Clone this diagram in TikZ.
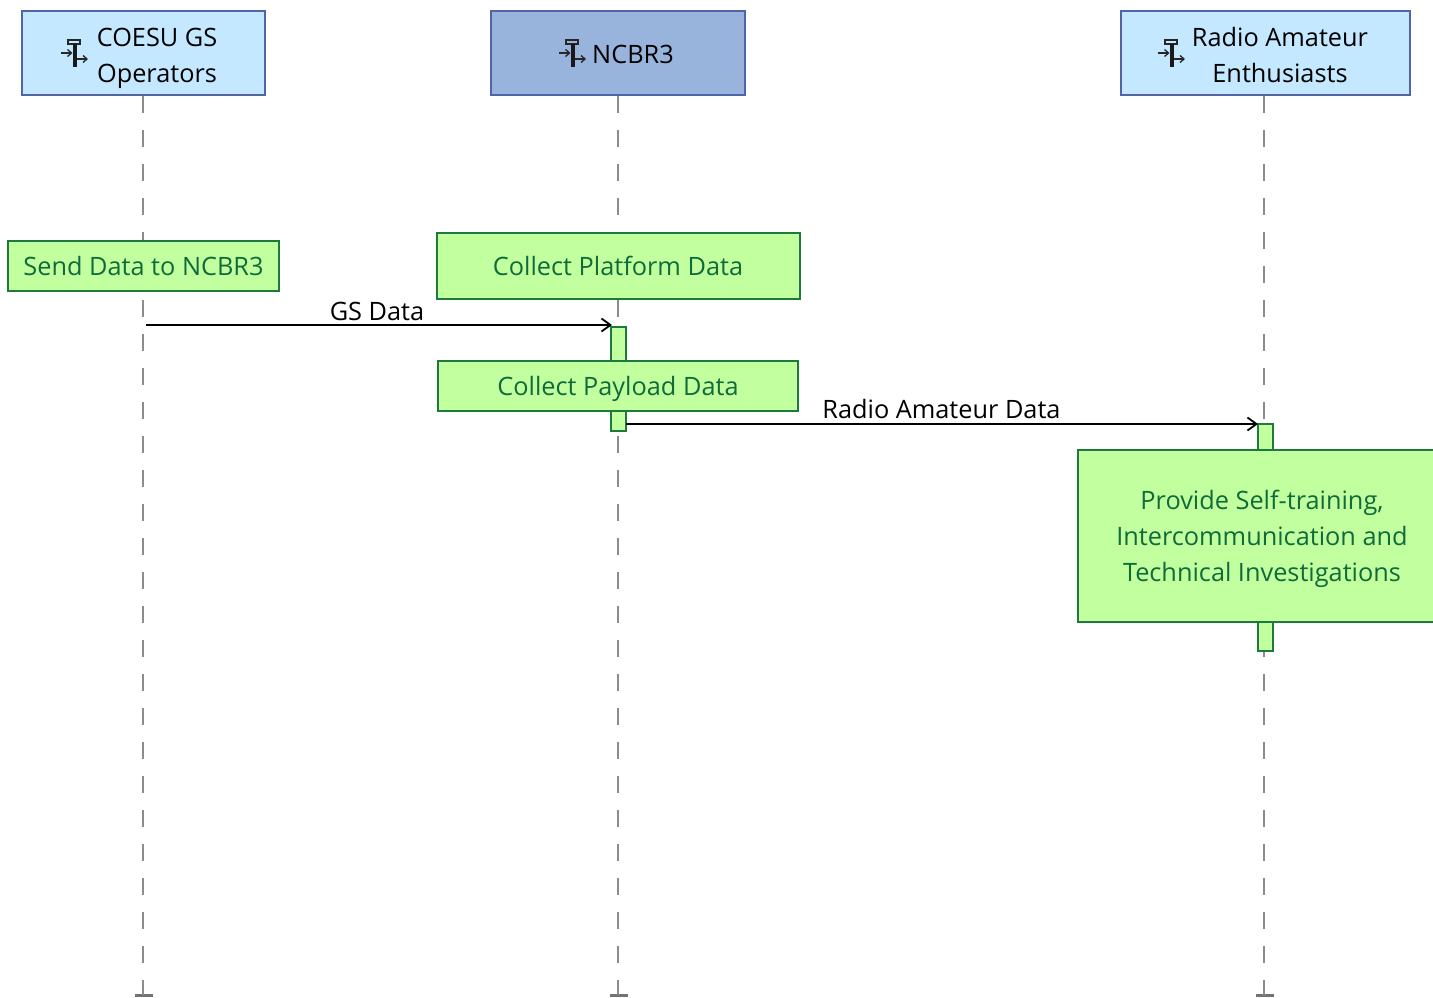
\documentclass[tikz,border=0pt]{standalone}
\usepackage{fontspec}
\setmainfont{Open Sans}
\usepackage{tikz}
\usetikzlibrary{calc}
\usetikzlibrary{arrows.meta}
\definecolor{lanefill}{HTML}{C4E8FF}
\definecolor{hilanefill}{HTML}{98B4DC}
\definecolor{laneedge}{HTML}{5264A8}
\definecolor{actfill}{HTML}{C2FF9E}
\definecolor{actedge}{HTML}{1E7A3C}
\definecolor{acttext}{HTML}{0E6B3A}
\tikzstyle{lane} = [rectangle, draw=laneedge, line width=2pt, fill=lanefill, minimum height=84pt, inner sep=0pt]
\tikzstyle{hilane} = [lane, fill=hilanefill]
\tikzstyle{lanetext} = [align=center, inner sep=0pt, text depth=0pt, font=\fontsize{25.3}{36}\selectfont]
\tikzstyle{act} = [rectangle, draw=actedge, line width=2pt, fill=actfill, text=acttext, align=center, inner sep=0pt, text depth=0pt, font=\fontsize{25.3}{36}\selectfont]
\tikzstyle{bar} = [rectangle, draw=actedge, line width=2pt, fill=actfill, minimum width=15pt, inner sep=0pt]
\tikzstyle{lifeline} = [draw=black!45, line width=2pt, dash pattern=on 17pt off 17pt]
\tikzstyle{endbar} = [rectangle, fill=black!55, minimum width=18pt, minimum height=3pt, inner sep=0pt]
\tikzstyle{line} = [draw, line width=1.8pt, -{Straight Barb[length=9pt,width=13pt,line width=1.8pt]}]
\tikzstyle{msg} = [inner sep=0pt, font=\fontsize{25.3}{30}\selectfont]
\tikzset{actoricon/.pic={
    \draw [line width=1.4pt, black!85] (-7,-13) rectangle (5,-9);
    \fill [black!90] (-2.5,-9) rectangle (2,14);
    \draw [line width=1.3pt, black!85, -{Straight Barb[length=4pt,width=7pt]}] (-14,0) -- (-2.5,0);
    \draw [line width=1.3pt, black!85, -{Straight Barb[length=4pt,width=7pt]}] (2,6) -- (13,6);
}}
\begin{document}
\begin{tikzpicture}[x=1pt, y=-1pt]
    \useasboundingbox (0,0) rectangle (1433,998);
    % lanes
    \node [lane, minimum width=243pt] (gsops) at (143.5,53) {};
    \node [hilane, right of=gsops, node distance=474.5pt, minimum width=254pt] (ncbr) {};
    \node [lane, right of=ncbr, node distance=647.5pt, minimum width=289pt] (radio) {};
    \node [lanetext] (gsopstext) at (157,55) {COESU GS\\Operators};
    \node [lanetext] (ncbrtext) at (633,54) {NCBR3};
    \node [lanetext] (radiotext) at (1280,54.5) {Radio Amateur\\Enthusiasts};
    \pic at (75,53) {actoricon};
    \pic at (573,53) {actoricon};
    \pic at (1172,53) {actoricon};
    % lifelines
    \node [endbar] (gsend) at (143.5,995.5) {};
    \node [endbar] (ncbrend) at (618.5,995.5) {};
    \node [endbar] (radioend) at (1265,995.5) {};
    \coordinate (radiotop) at (1263.5,96);
    \path [lifeline] (143,96) -- (143,995);
    \path [lifeline] (617.5,96) -- (617.5,995);
    \path [lifeline] (radiotop) -- (1263.5,995);
    % activations
    \node [bar, minimum height=104pt] (ncbrbar) at (618.5,379) {};
    \node [bar, minimum height=227pt] (radiobar) at (1265,537.5) {};
    % actions
    \node [act, minimum width=271pt, minimum height=50pt] (send) at (143.5,266) {Send Data to NCBR3};
    \node [act, minimum width=363pt, minimum height=66pt] (platform) at (618,265.5) {Collect Platform Data};
    \node [act, minimum width=360pt, minimum height=50pt] (payload) at (618,386) {Collect Payload Data};
    \node [act, minimum width=368pt, minimum height=172pt] (provide) at (1262,536) {Provide Self-training,\\Intercommunication and\\Technical Investigations};
    % messages
    \coordinate (gsout) at (146,325);
    \coordinate (gsin) at (612,325);
    \coordinate (ncbrout) at (626,424);
    \coordinate (radioin) at (1258,424);
    \path [line] (gsout) -- (gsin);
    \path [line] (ncbrout) -- (radioin);
    \node [msg] (gsdata) at (377,311) {GS Data};
    \node [msg] (radiodata) at (941.5,409) {Radio Amateur Data};
\end{tikzpicture}
\end{document}
